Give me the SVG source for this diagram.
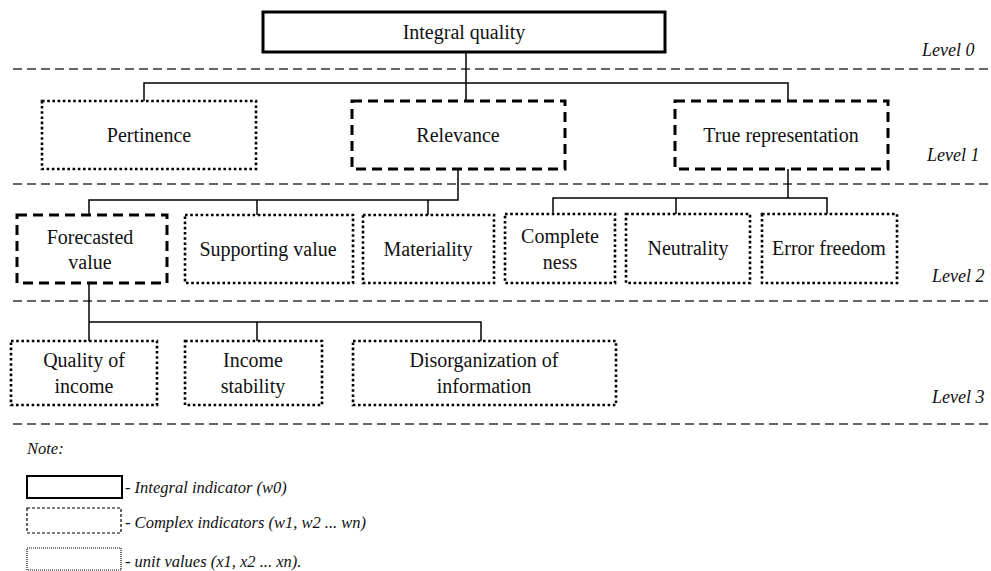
<svg xmlns="http://www.w3.org/2000/svg" width="991" height="571" viewBox="0 0 991 571">
<style>
.bg{fill:#fff}
.lvl{stroke:#333;stroke-width:1.3;stroke-dasharray:9 5;fill:none}
.solid{fill:#fff;stroke:#000;stroke-width:3}
.dash{fill:#fff;stroke:#000;stroke-width:3;stroke-dasharray:10 6}
.dot{fill:#fff;stroke:#000;stroke-width:2.6;stroke-dasharray:2.6 2.6}
.conn{stroke:#000;stroke-width:1.5;fill:none}
.t{font-family:"Liberation Serif","Times New Roman",serif;font-size:20px;fill:#111;text-anchor:middle}
.it{font-family:"Liberation Serif","Times New Roman",serif;font-style:italic;font-size:16.5px;fill:#111}
.lv{font-family:"Liberation Serif","Times New Roman",serif;font-style:italic;font-size:18px;fill:#111}
.lg1{fill:#fff;stroke:#000;stroke-width:2}
.lg2{fill:#fff;stroke:#000;stroke-width:1.2;stroke-dasharray:3 2}
.lg3{fill:#fff;stroke:#000;stroke-width:1.2;stroke-dasharray:1 1}
</style>
<rect class="bg" x="0" y="0" width="991" height="571"/>
<g id="level-lines">
<line class="lvl" x1="13" y1="69" x2="991" y2="69"/>
<line class="lvl" x1="13" y1="184" x2="991" y2="184"/>
<line class="lvl" x1="13" y1="301" x2="991" y2="301"/>
<line class="lvl" x1="13" y1="424" x2="991" y2="424"/>
<text class="lv" x="922" y="56">Level 0</text>
<text class="lv" x="927" y="161">Level 1</text>
<text class="lv" x="932" y="282">Level 2</text>
<text class="lv" x="932" y="403">Level 3</text>
</g>
<g id="connectors">
<polyline class="conn" points="466,53 466,101"/>
<polyline class="conn" points="144,101 144,83 788,83 788,107"/>
<polyline class="conn" points="458,169 458,200 89,200 89,215"/>
<polyline class="conn" points="257,200 257,215"/>
<polyline class="conn" points="428,200 428,215"/>
<polyline class="conn" points="788,169 788,198"/>
<polyline class="conn" points="553,214 553,198 827,198 827,214"/>
<polyline class="conn" points="676,198 676,214"/>
<polyline class="conn" points="89,283 89,341"/>
<polyline class="conn" points="89,322 481,322 481,341"/>
<polyline class="conn" points="257,322 257,341"/>
</g>
<g id="integral-quality">
<rect class="solid" x="263" y="12" width="402" height="40"/>
<text class="t" x="464" y="39">Integral quality</text>
</g>
<g id="pertinence">
<rect class="dot" x="42" y="101" width="214" height="68"/>
<text class="t" x="149" y="142">Pertinence</text>
</g>
<g id="relevance">
<rect class="dash" x="352" y="101" width="213" height="68"/>
<text class="t" x="458" y="142">Relevance</text>
</g>
<g id="true-representation">
<rect class="dash" x="675" y="101" width="213" height="68"/>
<text class="t" x="781" y="142">True representation</text>
</g>
<g id="forecasted-value">
<rect class="dash" x="17" y="215" width="150" height="68"/>
<text class="t" x="90" y="244">Forecasted</text>
<text class="t" x="90" y="269">value</text>
</g>
<g id="supporting-value">
<rect class="dot" x="185" y="215" width="168" height="68"/>
<text class="t" x="268" y="256">Supporting value</text>
</g>
<g id="materiality">
<rect class="dot" x="363" y="215" width="131" height="68"/>
<text class="t" x="428" y="256">Materiality</text>
</g>
<g id="completeness">
<rect class="dot" x="505" y="214" width="110" height="69"/>
<text class="t" x="560" y="243">Complete</text>
<text class="t" x="560" y="269">ness</text>
</g>
<g id="neutrality">
<rect class="dot" x="626" y="214" width="124" height="69"/>
<text class="t" x="688" y="255">Neutrality</text>
</g>
<g id="error-freedom">
<rect class="dot" x="762" y="214" width="135" height="69"/>
<text class="t" x="829" y="255">Error freedom</text>
</g>
<g id="quality-of-income">
<rect class="dot" x="11" y="341" width="146" height="64"/>
<text class="t" x="84" y="367">Quality of</text>
<text class="t" x="84" y="393">income</text>
</g>
<g id="income-stability">
<rect class="dot" x="185" y="341" width="137" height="64"/>
<text class="t" x="253" y="367">Income</text>
<text class="t" x="253" y="393">stability</text>
</g>
<g id="disorganization">
<rect class="dot" x="353" y="341" width="263" height="64"/>
<text class="t" x="484" y="367">Disorganization of</text>
<text class="t" x="484" y="393">information</text>
</g>
<g id="legend">
<text class="it" x="27" y="454">Note:</text>
<rect class="lg1" x="27" y="476" width="95" height="22"/>
<text class="it" x="125" y="493">- Integral indicator (w0)</text>
<rect class="lg2" x="27" y="508" width="94" height="25"/>
<text class="it" x="125" y="528">- Complex indicators (w1, w2 ... wn)</text>
<rect class="lg3" x="27" y="548" width="94" height="22"/>
<text class="it" x="125" y="567">- unit values (x1, x2 ... xn).</text>
</g>
</svg>
